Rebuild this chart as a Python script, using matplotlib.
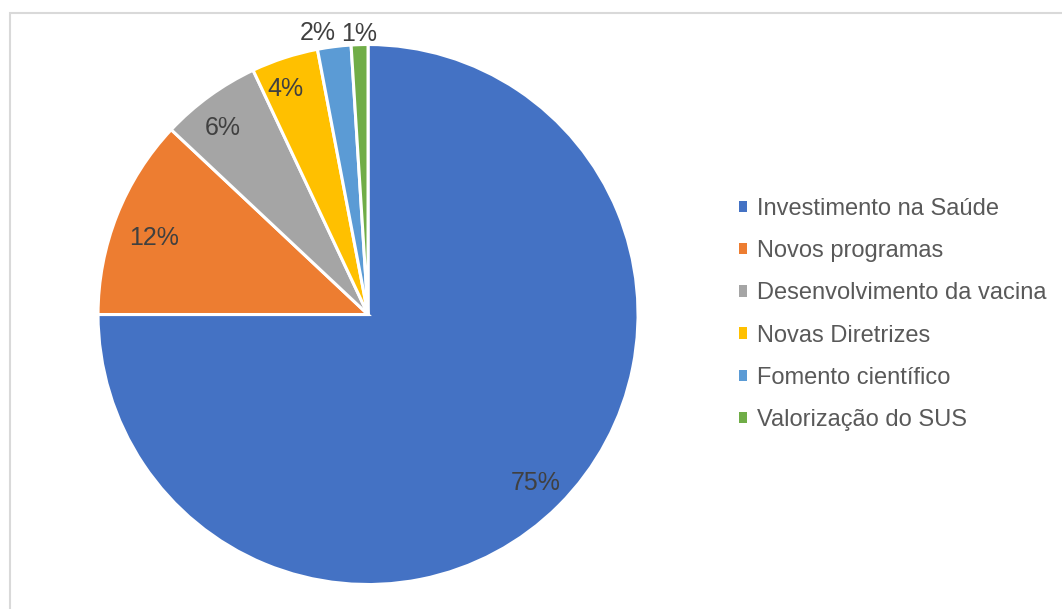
import matplotlib.pyplot as plt
import numpy as np
from matplotlib.patches import Rectangle, Patch

plt.rcParams['font.family'] = ['Liberation Sans', 'DejaVu Sans']

# dados do gráfico
categorias = ["Investimento na Saúde", "Novos programas", "Desenvolvimento da vacina",
              "Novas Diretrizes", "Fomento científico", "Valorização do SUS"]
valores = [75, 12, 6, 4, 2, 1]
cores = ["#4472C4", "#ED7D31", "#A5A5A5", "#FFC000", "#5B9BD5", "#70AD47"]

fig = plt.figure(figsize=(10.62, 6.09), dpi=100)
ax = fig.add_axes([0.0923, 0.0402, 0.5085, 0.8867])

wedges, _ = ax.pie(valores, colors=cores, startangle=90, counterclock=False,
                   radius=1, wedgeprops=dict(edgecolor="white", linewidth=2.2))
ax.set_xlim(-1, 1)
ax.set_ylim(-1, 1)
ax.set_aspect("equal")
ax.axis("off")

# rótulos de porcentagem (posição tipo "melhor ajuste" do Excel)
dist = [0.88, 0.84, 0.875, 0.89, 1.06, 1.04]
desvio = [0, 2, 2, 2, 3, 0]
for w, v, d, dv in zip(wedges, valores, dist, desvio):
    ang = np.deg2rad((w.theta1 + w.theta2) / 2 + dv)
    ax.text(d * np.cos(ang), d * np.sin(ang), f"{v}%", ha="center", va="center",
            fontsize=18, color="#404040", clip_on=False)

handles = [Patch(facecolor=c, edgecolor="none") for c in cores]
fig.legend(handles, categorias, loc="center left", bbox_to_anchor=(0.676, 0.4836),
           frameon=False, fontsize=17, labelcolor="#595959",
           handlelength=0.35, handleheight=0.35, handletextpad=0.4,
           labelspacing=0.85)

# moldura do gráfico
fig.patches.append(Rectangle((10 / 1062, -0.1), 1.2, 1 - 13 / 609 + 0.1,
                             transform=fig.transFigure, fill=False,
                             edgecolor="#D9D9D9", linewidth=1.5))

fig.savefig("out.png", dpi=100)
